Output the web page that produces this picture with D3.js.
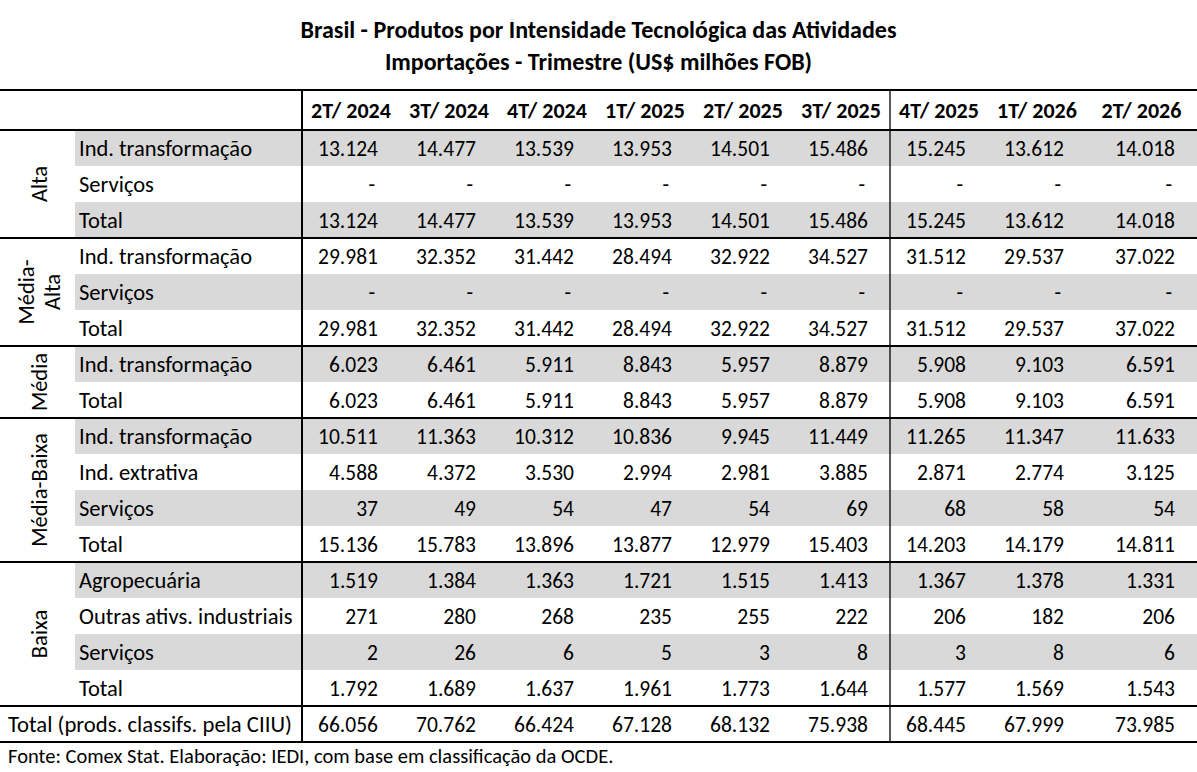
<!DOCTYPE html>
<html>
<head>
<meta charset="utf-8">
<script src="https://cdn.jsdelivr.net/npm/d3@7"></script>
<style>
  body { margin: 0; background: #fff; }
  svg text { font-family: Carlito, Calibri, Lato, sans-serif; fill: #000; }
</style>
</head>
<body>
<div id="chart"></div>
<script>
var titleLines = ['Brasil - Produtos por Intensidade Tecnológica das Atividades',
                  'Importações - Trimestre (US$ milhões FOB)'];
var periods = ['2T/ 2024', '3T/ 2024', '4T/ 2024', '1T/ 2025', '2T/ 2025',
               '3T/ 2025', '4T/ 2025', '1T/ 2026', '2T/ 2026'];

// Alta
var altaInd = [13124, 14477, 13539, 13953, 14501, 15486, 15245, 13612, 14018];
var altaServ = [null, null, null, null, null, null, null, null, null];
var altaTotal = [13124, 14477, 13539, 13953, 14501, 15486, 15245, 13612, 14018];

// Média-Alta
var medAltaInd = [29981, 32352, 31442, 28494, 32922, 34527, 31512, 29537, 37022];
var medAltaServ = [null, null, null, null, null, null, null, null, null];
var medAltaTotal = [29981, 32352, 31442, 28494, 32922, 34527, 31512, 29537, 37022];

// Média
var mediaInd = [6023, 6461, 5911, 8843, 5957, 8879, 5908, 9103, 6591];
var mediaTotal = [6023, 6461, 5911, 8843, 5957, 8879, 5908, 9103, 6591];

// Média-Baixa
var medBaixaInd = [10511, 11363, 10312, 10836, 9945, 11449, 11265, 11347, 11633];
var medBaixaExt = [4588, 4372, 3530, 2994, 2981, 3885, 2871, 2774, 3125];
var medBaixaServ = [37, 49, 54, 47, 54, 69, 68, 58, 54];
var medBaixaTotal = [15136, 15783, 13896, 13877, 12979, 15403, 14203, 14179, 14811];

// Baixa
var baixaAgro = [1519, 1384, 1363, 1721, 1515, 1413, 1367, 1378, 1331];
var baixaOutras = [271, 280, 268, 235, 255, 222, 206, 182, 206];
var baixaServ = [2, 26, 6, 5, 3, 8, 3, 8, 6];
var baixaTotal = [1792, 1689, 1637, 1961, 1773, 1644, 1577, 1569, 1543];

var grandTotalLabel = 'Total (prods. classifs. pela CIIU)';
var grandTotal = [66056, 70762, 66424, 67128, 68132, 75938, 68445, 67999, 73985];

var footnote = 'Fonte: Comex Stat. Elaboração: IEDI, com base em classificação da OCDE.';

var groups = [
  { name: ['Alta'], rows: [['Ind. transformação', altaInd], ['Serviços', altaServ], ['Total', altaTotal]] },
  { name: ['Média-', 'Alta'], rows: [['Ind. transformação', medAltaInd], ['Serviços', medAltaServ], ['Total', medAltaTotal]] },
  { name: ['Média'], rows: [['Ind. transformação', mediaInd], ['Total', mediaTotal]] },
  { name: ['Média-Baixa'], rows: [['Ind. transformação', medBaixaInd], ['Ind. extrativa', medBaixaExt],
                                  ['Serviços', medBaixaServ], ['Total', medBaixaTotal]] },
  { name: ['Baixa'], rows: [['Agropecuária', baixaAgro], ['Outras ativs. industriais', baixaOutras],
                            ['Serviços', baixaServ], ['Total', baixaTotal]] }
];

var width = 1197, height = 772;
var labelX = 75, valueX = 302, splitX = 890, tableTop = 90, headTop = 130, rowH = 36;
var fontSize = 22, labelSize = 22.5, numSize = 21.5;
var baseOff = rowH / 2 + 8;

var ptBR = d3.formatLocale({ decimal: ',', thousands: '.', grouping: [3], currency: ['US$', ''] });
var fmt = ptBR.format(',d');

// flatten rows, keep group index
var rows = [];
groups.forEach(function (g, gi) {
  g.rows.forEach(function (r) {
    rows.push({ group: gi, label: r[0], values: r[1] });
  });
});

var x = d3.scaleBand().domain(periods).range([valueX, valueX + 98 * periods.length]);
var colRight = function (p, i) {
  return i === periods.length - 1 ? width : x(p) + x.bandwidth();
};
var y = d3.scaleBand().domain(d3.range(rows.length)).range([headTop, headTop + rowH * rows.length]);
var totalTop = headTop + rowH * rows.length;
var tableBottom = totalTop + rowH;

var svg = d3.select('#chart').append('svg')
    .attr('width', width)
    .attr('height', height);

// title
svg.selectAll('text.title').data(titleLines).enter().append('text')
    .attr('class', 'title')
    .attr('x', width / 2)
    .attr('y', function (d, i) { return 38 + i * 32; })
    .attr('text-anchor', 'middle')
    .style('font-weight', 'bold')
    .style('font-size', '24px')
    .text(function (d) { return d; });

// zebra shading
svg.selectAll('rect.band').data(rows.filter(function (d, i) { return i % 2 === 0; })).enter().append('rect')
    .attr('class', 'band')
    .attr('x', labelX)
    .attr('y', function (d) { return y(rows.indexOf(d)); })
    .attr('width', width - labelX)
    .attr('height', y.bandwidth())
    .attr('fill', '#d9d9d9');

// header labels
svg.selectAll('text.head').data(periods).enter().append('text')
    .attr('class', 'head')
    .attr('x', function (d, i) { return (x(d) + colRight(d, i)) / 2; })
    .attr('y', (tableTop + headTop) / 2 + 8)
    .attr('text-anchor', 'middle')
    .style('font-weight', 'bold')
    .style('font-size', fontSize + 'px')
    .text(function (d) { return d; });

// row labels
svg.selectAll('text.rowlabel').data(rows).enter().append('text')
    .attr('class', 'rowlabel')
    .attr('x', labelX + 4)
    .attr('y', function (d, i) { return y(i) + baseOff; })
    .style('font-size', labelSize + 'px')
    .text(function (d) { return d.label; });

// values
var rowSel = svg.selectAll('g.row').data(rows).enter().append('g')
    .attr('class', 'row')
    .attr('transform', function (d, i) { return 'translate(0,' + (y(i) + baseOff) + ')'; });

rowSel.selectAll('text').data(function (d) { return d.values; }).enter().append('text')
    .attr('x', function (v, i) { return colRight(periods[i], i) - (v == null ? 25 : 22); })
    .attr('text-anchor', 'end')
    .style('font-size', numSize + 'px')
    .text(function (v) { return v == null ? '-' : fmt(v); });

// group labels (rotated)
var groupSpans = groups.map(function (g, gi) {
  var idx = rows.map(function (r, i) { return r.group === gi ? i : -1; }).filter(function (i) { return i >= 0; });
  return { g: g, top: y(idx[0]), bottom: y(idx[idx.length - 1]) + rowH };
});

var gl = svg.selectAll('text.group').data(groupSpans).enter().append('text')
    .attr('class', 'group')
    .attr('transform', function (d) { return 'translate(' + (labelX / 2 + 1) + ',' + ((d.top + d.bottom) / 2) + ') rotate(-90)'; })
    .attr('text-anchor', 'middle')
    .style('font-size', labelSize + 'px');

gl.selectAll('tspan').data(function (d) { return d.g.name; }).enter().append('tspan')
    .attr('x', 0)
    .attr('y', function (t, i, nodes) { return 8 + (i - (nodes.length - 1) / 2) * 26; })
    .text(function (t) { return t; });

// grand total row
svg.append('text')
    .attr('x', 8)
    .attr('y', totalTop + baseOff)
    .style('font-size', '22.7px')
    .text(grandTotalLabel);

svg.append('g').selectAll('text').data(grandTotal).enter().append('text')
    .attr('x', function (v, i) { return colRight(periods[i], i) - 22; })
    .attr('y', totalTop + baseOff)
    .attr('text-anchor', 'end')
    .style('font-size', numSize + 'px')
    .text(function (v) { return fmt(v); });

// rules
var hLines = [tableTop, headTop].concat(groupSpans.map(function (d) { return d.bottom; })).concat([tableBottom]);
svg.selectAll('line.h').data(hLines).enter().append('line')
    .attr('class', 'h')
    .attr('x1', 0).attr('x2', width)
    .attr('y1', function (d) { return d; }).attr('y2', function (d) { return d; })
    .attr('stroke', '#000')
    .attr('stroke-width', 2);

svg.selectAll('line.v').data([{ x: valueX, w: 2 }, { x: splitX, w: 1.3 }]).enter().append('line')
    .attr('class', 'v')
    .attr('x1', function (d) { return d.x; }).attr('x2', function (d) { return d.x; })
    .attr('y1', tableTop).attr('y2', tableBottom)
    .attr('stroke', '#000')
    .attr('stroke-width', function (d) { return d.w; });

// footnote
svg.append('text')
    .attr('x', 8)
    .attr('y', tableBottom + 21)
    .style('font-size', '20.5px')
    .text(footnote);
</script>
</body>
</html>
